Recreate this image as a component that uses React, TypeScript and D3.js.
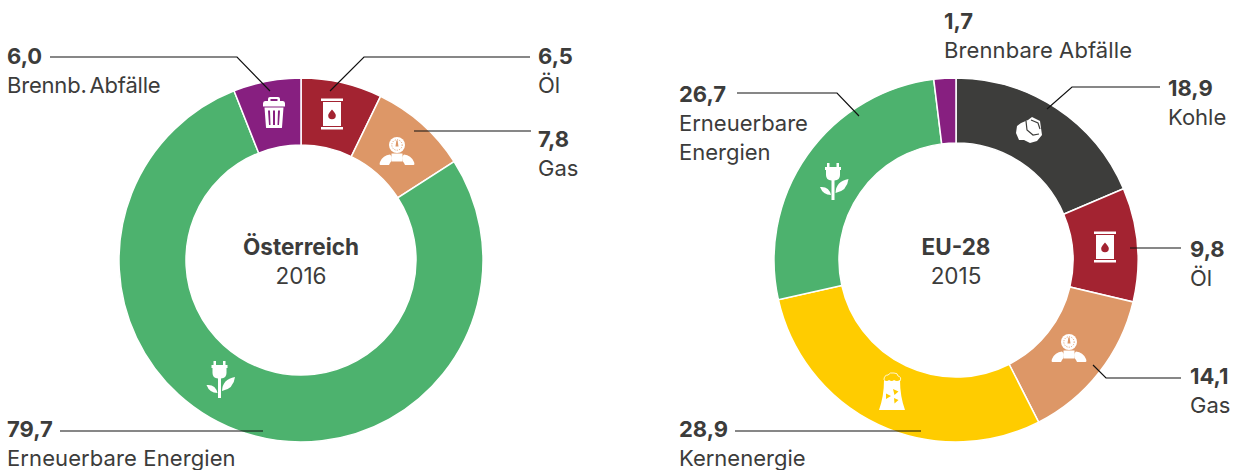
import React from 'react';
import * as d3 from 'd3';

const leftKeys = ['oil', 'gas', 'renew', 'waste'];
const leftValues = [6.5, 7.8, 79.7, 6.0];
const leftArcShares = [7.2, 8.7, 78.1, 6.0];
const leftNames = [['Öl'], ['Gas'], ['Erneuerbare Energien'], ['Brennb. Abfälle']];
const rightKeys = ['coal', 'oil', 'gas', 'nuclear', 'renew', 'waste'];
const rightValues = [18.9, 9.8, 14.1, 28.9, 26.7, 1.7];
const rightArcShares = [18.6, 10.1, 13.8, 29.0, 26.55, 1.95];
const rightNames = [['Kohle'], ['Öl'], ['Gas'], ['Kernenergie'], ['Erneuerbare', 'Energien'], ['Brennbare Abfälle']];
const colors: Record<string, string> = {
  oil: '#a32331', gas: '#dd9767', renew: '#4db26e', waste: '#871f80', coal: '#3d3d3b', nuclear: '#ffcc00',
};
const FONT = 'Inter, sans-serif';
const INK = '#3c3c3b';
const fmt = (v: number) => v.toFixed(1).replace('.', ',');

function Plug({ x, y }: { x: number; y: number }) {
  return (
    <g transform={`translate(${x},${y})`} fill="#fff" stroke="none">
      <path d="M-6,-19h2.500v4h-2.500zM3.500,-19h2.500v4h-2.500zM-8,-15h16v3h-16z" />
      <path d="M-7,-12H7V-7Q7,-2,1.500,-1.500V18H-1.500V-1.500Q-7,-2,-7,-7Z" />
      <path d="M2.500,11Q3,-1,15.500,-3Q14,9,2.500,11Z" />
      <path d="M-2,13Q-10,13,-13,5Q-4,4,-2,13Z" />
    </g>
  );
}
function Barrel({ x, y, c }: { x: number; y: number; c: string }) {
  return (
    <g transform={`translate(${x},${y})`} stroke="none">
      <path fill="#fff" d="M-11,-15.500h22v2.500h-22zM-9,-12h18v24h-18zM-11,13h22v2.500h-22z" />
      <path fill={c} d="M0,-4.500Q4,0,3.800,1.500A3.800,3.800,0,0,1,-3.800,1.500Q-4,0,0,-4.500Z" />
    </g>
  );
}
function Bin({ x, y }: { x: number; y: number }) {
  return (
    <g transform={`translate(${x},${y})`} fill="#fff" stroke="none">
      <path fillRule="evenodd" d="M-6,-11.500V-13.500Q-6,-15.500,-4,-15.500H4Q6,-15.500,6,-13.500V-11.500H9Q11,-11.500,11,-9V-6H-11V-9Q-11,-11.500,-9,-11.500ZM-3.500,-13.500V-11.500H3.500V-13.500Z" />
      <path fillRule="evenodd" d="M-9.500,-5H9.500L8,15Q8,15.500,7,15.500H-7Q-8,15.500,-8,15ZM-6,-2L-5,12.500H-3.500L-4,-2ZM-1,-2V12.500H1V-2ZM4,-2L3.500,12.500H5L6,-2Z" />
    </g>
  );
}
function Gauge({ x, y, c }: { x: number; y: number; c: string }) {
  return (
    <g transform={`translate(${x},${y})`} stroke="none">
      <circle r={8} fill="#fff" />
      <circle r={5.2} fill="none" stroke={c} strokeWidth={1} strokeDasharray="1 1.4" />
      <path d="M-.6,-4.500H.6L1.500,1.500H-1.500Z" fill={c} />
      <path fill="#fff" d="M-5.500,8.500H5.500V16.500H-5.500Z" />
      <path fill="#fff" d="M-7,9.500Q-3,13,-7,18Q-8,20,-8,20H-16.500Q-18,20,-17,17Q-14,10,-7,9.500Z" />
      <path fill="#fff" d="M7,9.500Q3,13,7,18Q8,20,8,20H16.500Q18,20,17,17Q14,10,7,9.500Z" />
    </g>
  );
}
function Coal({ x, y, c }: { x: number; y: number; c: string }) {
  return (
    <g transform={`translate(${x},${y})`} stroke="none">
      <path fill="#fff" d="M-8,-9L-1,-12L3,-15L11,-11L13,3L8,9L1,11L-5,8L-10,8L-13,1L-12,-6Z" />
      <path fill="none" stroke={c} strokeWidth={1.2} d="M-3,-11L-2,-2L4,3L10,2M2,-12L9,-9L11,-3" />
    </g>
  );
}
function Tower({ x, y, c }: { x: number; y: number; c: string }) {
  return (
    <g transform={`translate(${x},${y})`} stroke="none">
      <path fill="none" stroke="#fff" strokeWidth={0.8} d="M-8,-12Q-8,-17,-4,-17Q-2,-20,2,-19Q6,-19,6,-16Q10,-15,8,-11" />
      <path fill="#fff" d="M-8,-12Q-5,-10,-3,-12Q0,-10,2,-12Q5,-10,8,-12Q8,4,13,18H-13Q-8,4,-8,-12Z" />
      <path fill={c} d="M1,-3L6.500,-0.500L2.500,3ZM-1,4L-6,1.500V7ZM2,6L6.500,8L2.500,11.500Z" />
    </g>
  );
}

function icon(key: string, x: number, y: number) {
  const c = colors[key];
  if (key === 'oil') return <Barrel x={x} y={y} c={c} />;
  if (key === 'gas') return <Gauge x={x} y={y} c={c} />;
  if (key === 'renew') return <Plug x={x} y={y} />;
  if (key === 'waste') return <Bin x={x} y={y} />;
  if (key === 'coal') return <Coal x={x} y={y} c={c} />;
  return <Tower x={x} y={y} c={c} />;
}

function Donut({ cx, cy, keys, shares, title, year, inner, icons }: any) {
  const pie = d3.pie<number>().sort(null).value((d) => d)(shares);
  const arc = d3.arc<any>().innerRadius(inner).outerRadius(182);
  return (
    <g>
      <g transform={`translate(${cx},${cy})`}>
        {pie.map((p, i) => (
          <path key={keys[i]} d={arc(p) as string} fill={colors[keys[i]]} stroke="#fff" strokeWidth={1.5} />
        ))}
      </g>
      {keys.map((k: string, i: number) => icons[i] && <g key={k}>{icon(k, icons[i][0], icons[i][1])}</g>)}
      <text x={cx} y={cy - 5} textAnchor="middle" fontWeight={700} fontSize={22.5} fill={INK}>{title}</text>
      <text x={cx} y={cy + 24} textAnchor="middle" fontSize={22.5} fill={INK}>{year}</text>
    </g>
  );
}

function Label({ x, y, value, lines, ws, ls }: { x: number; y: number; value: number; lines: string[]; ws?: number; ls?: number }) {
  return (
    <g fontSize={22} fill={INK}>
      <text x={x} y={y} fontWeight={700}>{fmt(value)}</text>
      {lines.map((l, i) => <text key={l} x={x} y={y + 29 + i * 29} wordSpacing={ws} letterSpacing={ls}>{l}</text>)}
    </g>
  );
}

const leaders = [
  'M50,57H237L270,91', 'M530,57H364L330,91', 'M531,131H414', 'M60,431H263',
  'M737,93H837L859,116', 'M1160,87H1072L1047,109', 'M1181,248H1130', 'M1181,378H1106L1093,365', 'M735,431H921',
];

export default function App() {
  return (
    <svg width={1240} height={470} style={{ position: 'absolute', left: 0, top: 0 }} fontFamily={FONT}>
      <Donut cx={301} cy={260} keys={leftKeys} shares={leftArcShares} title="Österreich" year="2016" inner={115}
        icons={[[332, 114], [397, 145], [219.5, 380], [274, 112.5]]} />
      <Donut cx={956} cy={260} keys={rightKeys} shares={rightArcShares} title="EU-28" year="2015" inner={117}
        icons={[[1029, 132], [1105, 247], [1069, 342], [892, 392], [833, 182], null]} />
      {leaders.map((d) => <path key={d} d={d} fill="none" stroke="#111" strokeWidth={1.2} />)}
      <Label x={7} y={64} value={leftValues[3]} lines={leftNames[3]} ws={-3} ls={-0.2} />
      <Label x={538} y={64} value={leftValues[0]} lines={leftNames[0]} />
      <Label x={538} y={147} value={leftValues[1]} lines={leftNames[1]} />
      <Label x={7} y={437} value={leftValues[2]} lines={leftNames[2]} ls={0.1} />
      <Label x={944} y={29} value={rightValues[5]} lines={rightNames[5]} ls={0.1} />
      <Label x={1168} y={96} value={rightValues[0]} lines={rightNames[0]} />
      <Label x={679} y={102} value={rightValues[4]} lines={rightNames[4]} />
      <Label x={1190} y={257} value={rightValues[1]} lines={rightNames[1]} />
      <Label x={1190} y={384} value={rightValues[2]} lines={rightNames[2]} />
      <Label x={679} y={437} value={rightValues[3]} lines={rightNames[3]} />
    </svg>
  );
}
